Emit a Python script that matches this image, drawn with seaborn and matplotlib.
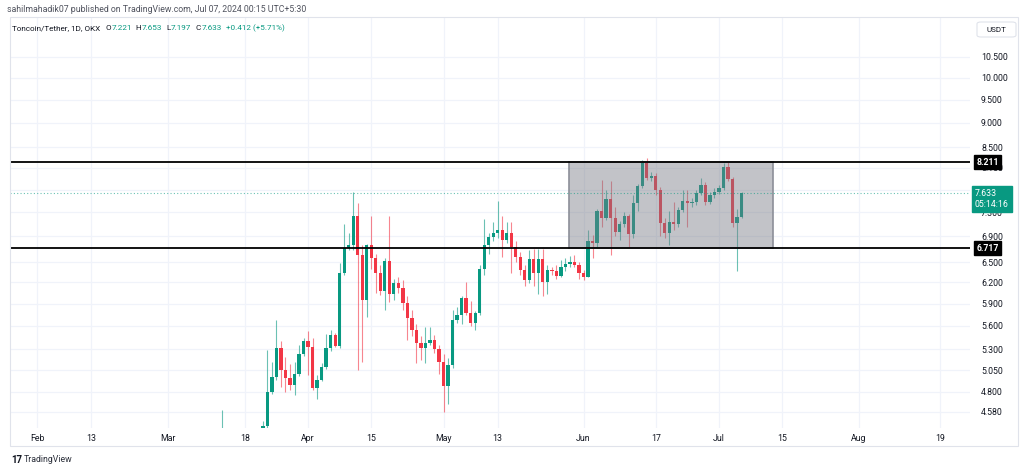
import numpy as np
import pandas as pd
import matplotlib
matplotlib.use("Agg")
import matplotlib.pyplot as plt
import matplotlib.dates as mdates
import matplotlib.transforms as mtransforms
from matplotlib.patches import Rectangle, FancyBboxPatch
import seaborn as sns

sns.set_theme(style="white")
plt.rcParams['font.family'] = ['Roboto', 'DejaVu Sans']

nan = np.nan
start_date = "2024-03-13"

# ---- daily OHLC (TON/USDT, OKX) ----
opens_mar = [4.30, nan, nan, nan, nan, nan, nan, nan, nan,
             4.20, 4.43, 4.80, 4.97, 5.32, 5.05, 4.955, 4.88, 5.01, 5.25]
highs_mar = [4.60, nan, nan, nan, nan, nan, nan, nan, nan,
             4.48, 5.29, 5.15, 5.68, 5.40, 5.21, 5.12, 5.15, 5.36, 5.44]
lows_mar = [4.05, nan, nan, nan, nan, nan, nan, nan, nan,
            4.10, 4.38, 4.78, 4.93, 4.85, 4.80, 4.82, 4.77, 4.98, 5.22]
closes_mar = [4.35, nan, nan, nan, nan, nan, nan, nan, nan,
              4.43, 4.80, 4.97, 5.32, 5.05, 4.955, 4.88, 5.01, 5.25, 5.41]

opens_apr = [5.41, 5.33, 4.84, 4.935, 5.09, 5.32, 5.48, 5.34, 6.33, 6.71,
             6.77, 7.245, 6.61, 5.95, 6.77, 6.56, 6.33, 6.07, 6.51, 6.04,
             6.19, 6.115, 5.91, 5.70, 5.55, 5.385, 5.315, 5.385, 5.42, 5.30]
highs_apr = [5.53, 5.45, 4.99, 5.14, 5.50, 5.55, 5.51, 6.48, 7.11, 6.95,
             7.66, 7.46, 6.77, 6.78, 7.23, 6.62, 6.45, 6.56, 7.23, 6.25,
             6.27, 6.24, 6.00, 5.81, 5.63, 5.47, 5.59, 5.59, 5.48, 5.35]
lows_apr = [4.99, 4.82, 4.72, 4.92, 5.06, 5.28, 5.33, 5.32, 6.30, 6.69,
            6.69, 5.05, 5.15, 5.72, 6.40, 6.05, 6.02, 5.81, 5.92, 5.95,
            6.05, 5.81, 5.42, 5.47, 5.13, 5.17, 5.13, 5.36, 5.26, 5.01]
closes_apr = [5.33, 4.84, 4.935, 5.09, 5.32, 5.48, 5.34, 6.33, 6.71, 6.77,
              7.245, 6.61, 5.95, 6.77, 6.56, 6.33, 6.07, 6.51, 6.04, 6.19,
              6.115, 5.91, 5.70, 5.55, 5.385, 5.315, 5.385, 5.42, 5.30, 5.15]

opens_may = [5.15, 4.87, 5.11, 5.68, 5.745, 5.97, 5.77, 5.635, 5.77, 6.40,
             6.77, 6.89, 6.95, 7.01, 6.85, 6.96, 6.74, 6.58, 6.38, 6.235,
             6.54, 6.33, 6.54, 6.21, 6.38, 6.36, 6.29, 6.42, 6.47, 6.50, 6.46]
highs_may = [5.25, 5.19, 5.81, 5.85, 6.00, 6.21, 5.93, 5.80, 6.45, 7.19,
             6.95, 7.13, 7.49, 7.23, 7.14, 7.14, 6.82, 6.65, 6.45, 6.69,
             6.70, 6.70, 6.70, 6.46, 6.42, 6.46, 6.53, 6.56, 6.60, 6.61, 6.50]
lows_may = [4.58, 4.67, 5.08, 5.64, 5.62, 5.74, 5.60, 5.55, 5.74, 6.30,
            6.63, 6.82, 6.88, 6.58, 6.80, 6.33, 6.50, 6.30, 6.15, 6.19,
            6.14, 6.04, 6.00, 6.04, 6.30, 6.25, 6.27, 6.37, 6.43, 6.42, 6.25]
closes_may = [4.87, 5.11, 5.68, 5.745, 5.97, 5.77, 5.635, 5.77, 6.40, 6.77,
              6.89, 6.95, 7.01, 6.85, 6.96, 6.74, 6.58, 6.38, 6.235, 6.54,
              6.33, 6.54, 6.21, 6.38, 6.36, 6.29, 6.42, 6.47, 6.50, 6.46, 6.33]

opens_jun = [6.33, 6.28, 6.82, 6.79, 7.33, 7.20, 7.53, 7.20, 6.98, 7.11,
             7.23, 6.94, 7.46, 7.77, 8.19, 7.91, 7.95, 7.69, 7.12, 6.95,
             7.13, 7.10, 7.34, 7.50, 7.47, 7.48, 7.635, 7.785, 7.48, 7.60]
highs_jun = [6.38, 7.01, 6.92, 7.36, 7.88, 7.69, 7.86, 7.40, 7.15, 7.30,
             7.28, 7.60, 7.80, 8.24, 8.29, 8.02, 8.00, 7.75, 7.20, 7.33,
             7.48, 7.40, 7.70, 7.69, 7.55, 7.70, 7.91, 7.84, 7.66, 7.72]
lows_jun = [6.24, 6.27, 6.56, 6.74, 7.05, 7.17, 6.61, 6.90, 6.85, 7.05,
            6.74, 6.88, 7.33, 7.72, 7.88, 7.85, 7.60, 6.90, 6.87, 6.77,
            7.00, 7.06, 7.30, 7.06, 7.40, 7.42, 7.60, 7.42, 7.44, 7.55]
closes_jun = [6.28, 6.82, 6.79, 7.33, 7.20, 7.53, 7.20, 6.98, 7.11, 7.23,
              6.94, 7.46, 7.77, 8.19, 7.91, 7.95, 7.69, 7.12, 6.95, 7.13,
              7.10, 7.34, 7.50, 7.47, 7.48, 7.635, 7.785, 7.48, 7.60, 7.66]

opens_jul = [7.66, 7.735, 8.12, 7.89, 7.12, 7.221]
highs_jul = [7.78, 8.19, 8.21, 7.93, 7.35, 7.653]
lows_jul = [7.62, 7.70, 7.85, 7.05, 6.37, 7.197]
closes_jul = [7.735, 8.12, 7.89, 7.12, 7.221, 7.633]

opens = opens_mar + opens_apr + opens_may + opens_jun + opens_jul
highs = highs_mar + highs_apr + highs_may + highs_jun + highs_jul
lows = lows_mar + lows_apr + lows_may + lows_jun + lows_jul
closes = closes_mar + closes_apr + closes_may + closes_jun + closes_jul

# ---- levels / annotations ----
resistance = 8.211
support = 6.717
last_price = 7.633
countdown = "05:14:16"
box_start = "2024-05-28 19:00"
box_end = "2024-07-13 00:00"

y_ticks = [4.58, 4.8, 5.05, 5.3, 5.6, 5.9, 6.2, 6.5, 6.9, 7.3, 7.7, 8.1,
           8.5, 9.0, 9.5, 10.0, 10.5]
x_tick_dates = ["2024-02-01", "2024-02-13", "2024-03-01", "2024-03-18",
                "2024-04-01", "2024-04-15", "2024-05-01", "2024-05-13",
                "2024-06-01", "2024-06-17", "2024-07-01", "2024-07-15",
                "2024-08-01", "2024-08-19"]
x_tick_labels = ["Feb", "13", "Mar", "18", "Apr", "15", "May", "13",
                 "Jun", "17", "Jul", "15", "Aug", "19"]

header_title = "Toncoin/Tether, 1D, OKX"
header_fields = [("O", "7.221"), ("H", "7.653"), ("L", "7.197"), ("C", "7.633")]
header_change = "+0.412 (+5.71%)"
publisher = "sahilmahadik07 published on TradingView.com, Jul 07, 2024 00:15 UTC+5:30"

UP = "#089981"
DOWN = "#f23645"
TXT = "#131722"
GRID = "#f0f3fa"

df = pd.DataFrame({
    "date": pd.date_range(start_date, periods=len(opens), freq="D"),
    "open": opens, "high": highs, "low": lows, "close": closes,
}).dropna()
df["x"] = mdates.date2num(df["date"])
df["up"] = df["close"] >= df["open"]
df["color"] = np.where(df["up"], UP, DOWN)

W, H = 1024, 470
fig = plt.figure(figsize=(W / 100, H / 100), dpi=100)
fig.patch.set_facecolor("white")

# pane: x 10..970 px, y 17..428 px
ax = fig.add_axes([10 / W, 1 - 428 / H, 960 / W, 411 / H])
ax.set_facecolor("white")
ax.set_yscale("log")
ax.set_ylim(4.412, 11.52)
ax.set_xlim(mdates.date2num(pd.Timestamp("2024-01-26")),
            mdates.date2num(pd.Timestamp("2024-08-25 14:00")))

ax.set_yticks(y_ticks)
ax.yaxis.set_minor_locator(matplotlib.ticker.NullLocator())
ax.set_yticklabels([f"{v:.3f}" for v in y_ticks])
ax.yaxis.tick_right()
ax.tick_params(axis="y", length=0, pad=8, labelsize=6.3, labelcolor=TXT)
ax.set_xticks(mdates.date2num(pd.to_datetime(x_tick_dates)))
ax.set_xticklabels(x_tick_labels)
ax.tick_params(axis="x", length=0, pad=4, labelsize=6.3, labelcolor=TXT)
for lbl in ax.get_yticklabels():
    lbl.set_horizontalalignment("left")
ax.grid(True, color=GRID, linewidth=0.9)
for s in ax.spines.values():
    s.set_visible(False)

# candles
ax.vlines(df["x"], df["low"], df["high"], colors=df["color"], linewidth=0.8,
          alpha=0.6, zorder=2)
body_lo = np.minimum(df["open"], df["close"])
body_h = np.maximum(np.abs(df["close"] - df["open"]), 0.012)
ax.bar(df["x"], body_h, bottom=body_lo, width=0.72, color=df["color"],
       linewidth=0, zorder=3)

# range box
bx0 = mdates.date2num(pd.Timestamp(box_start))
bx1 = mdates.date2num(pd.Timestamp(box_end))
ax.add_patch(Rectangle((bx0, support), bx1 - bx0, resistance - support,
                       facecolor="#787b86", alpha=0.45, edgecolor="none", zorder=4))
ax.add_patch(Rectangle((bx0, support), bx1 - bx0, resistance - support,
                       facecolor="none", edgecolor="#8c8f98", linewidth=1.2, zorder=4))

# horizontal levels
ax.axhline(resistance, color="black", linewidth=1.3, zorder=5)
ax.axhline(support, color="black", linewidth=1.3, zorder=5)
ax.axhline(last_price, color=UP, linewidth=0.8, linestyle=(0, (1, 2)),
           alpha=0.6, zorder=5)

# price-scale labels
trans = mtransforms.blended_transform_factory(ax.transAxes, ax.transData)
for lvl in (resistance, support):
    ax.text(1.0065, lvl, f"{lvl:.3f}", transform=trans, ha="left", va="center",
            fontsize=6.3, fontweight="bold", color="white", clip_on=False, zorder=10,
            bbox=dict(boxstyle="square,pad=0.3", fc="black", ec="black"))
ax.annotate(f"{last_price:.3f}\n{countdown}", xy=(1.0, last_price), xycoords=trans,
            xytext=(3.5, 3.0), textcoords="offset points", ha="left", va="top",
            fontsize=6.3, color="white", linespacing=1.25, annotation_clip=False,
            zorder=10,
            bbox=dict(boxstyle="square,pad=0.35", fc=UP, ec=UP))


def fx(px):
    return px / W


def fy(py):
    return 1 - py / H


# outer frame
fig.add_artist(Rectangle((fx(10), fy(446)), fx(1018) - fx(10), fy(17) - fy(446),
                         transform=fig.transFigure, fill=False,
                         edgecolor="#e0e3eb", linewidth=0.8))

# USDT box
fig.add_artist(FancyBboxPatch((fx(977), fy(37)), fx(1016) - fx(977), fy(22) - fy(37),
                              boxstyle="round,pad=0,rounding_size=0.004",
                              transform=fig.transFigure, fill=True, facecolor="white",
                              edgecolor="#e0e3eb", linewidth=0.8))
fig.text(fx(996.5), fy(29.5), "USDT", ha="center", va="center", fontsize=5.8, color=TXT)

# header texts
fig.text(fx(7), fy(9), publisher, ha="left", va="center", fontsize=6.3, color="#50535e")

renderer = fig.canvas.get_renderer()
hy = fy(28)
HFS = 5.9


def put(xpx, s, color, gap):
    t = fig.text(fx(xpx), hy, s, ha="left", va="center", fontsize=HFS, color=color)
    bb = t.get_window_extent(renderer)
    return bb.x1 + gap


xpos = put(12, header_title, TXT, 5)
for key, val in header_fields:
    xpos = put(xpos, key, TXT, 0.5)
    xpos = put(xpos, val, UP, 4)
put(xpos, header_change, UP, 0)

# footer logo
fig.text(fx(11), fy(460), "17", ha="left", va="center", fontsize=7, fontweight="bold", color=TXT)
fig.text(fx(24), fy(460), "TradingView", ha="left", va="center", fontsize=6.3, color="#2a2e39")

fig.savefig("out.png", dpi=100)
